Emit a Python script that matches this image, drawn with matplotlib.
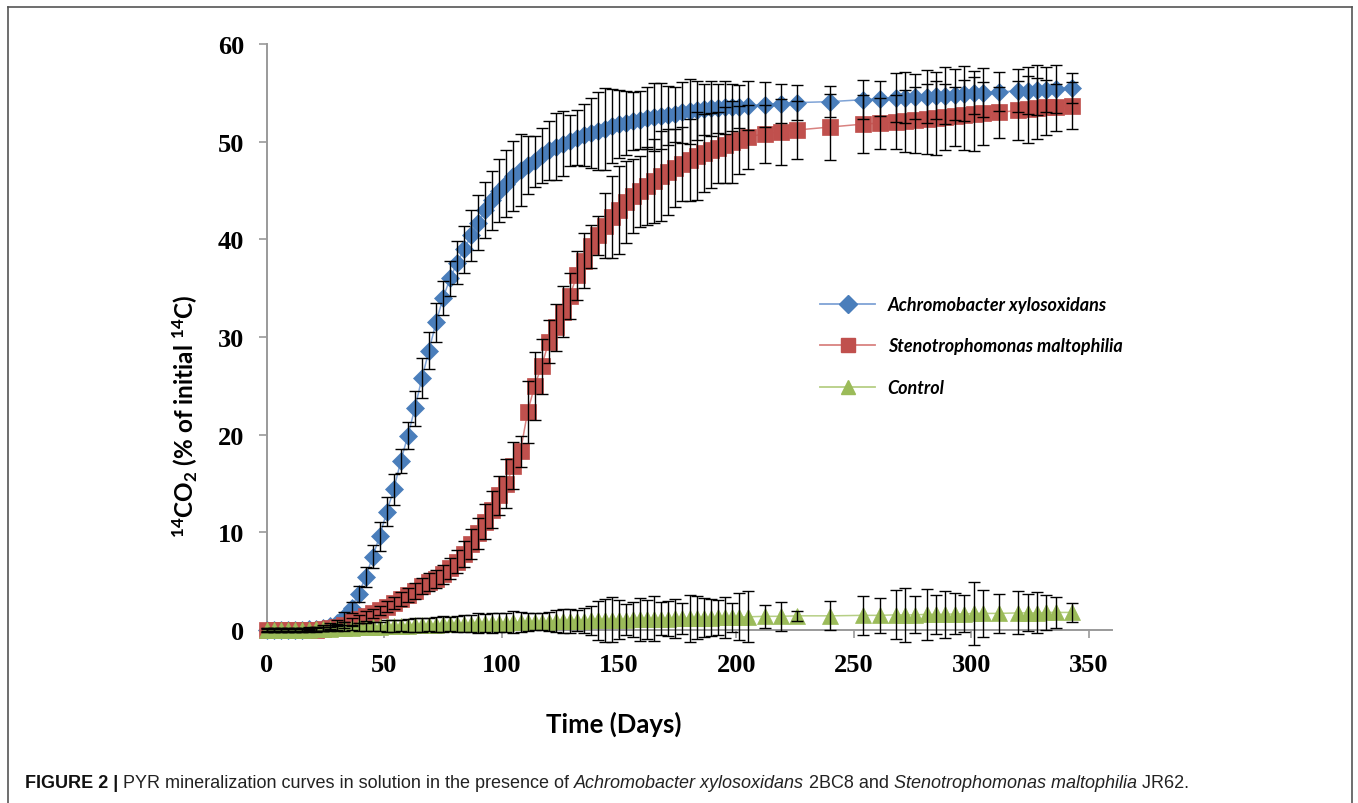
import matplotlib
matplotlib.use("Agg")
import matplotlib.pyplot as plt
from matplotlib.lines import Line2D

# ---------------- data ----------------
days = [0, 3, 6, 9, 12, 15, 18, 21, 24, 27, 30,
        33, 36, 39, 42, 45, 48, 51, 54, 57, 60, 63, 66, 69,
        72, 75, 78, 81, 84, 87, 90, 93, 96, 99,
        102, 105, 108, 111, 114, 117, 120, 123, 126, 129,
        132, 135, 138, 141, 144, 147, 150, 153, 156, 159,
        162, 165, 168, 171, 174, 177, 180, 183, 186, 189,
        192, 195, 198, 201,
        205, 212, 219, 226,
        240, 254, 261, 268, 272, 276, 281, 285, 289, 293,
        297, 301, 305, 312, 320, 324, 328, 332, 336, 343]

achromo = [0.0, 0.0, 0.0, 0.0, 0.0, 0.0, 0.1, 0.1, 0.2, 0.4, 0.7,
           1.3, 2.3, 3.7, 5.4, 7.5, 9.6, 12.1, 14.4, 17.3, 19.9, 22.7, 25.8, 28.6,
           31.5, 34.0, 36.0, 37.6, 39.0, 40.4, 41.7, 43.0, 44.0, 45.0,
           45.7, 46.5, 47.1, 47.6, 48.0, 48.6, 49.1, 49.5, 49.8, 50.1,
           50.4, 50.7, 50.9, 51.1, 51.3, 51.6, 51.8, 51.9, 52.1, 52.2,
           52.4, 52.5, 52.6, 52.7, 52.8, 53.0, 53.1, 53.2, 53.3, 53.4,
           53.4, 53.5, 53.5, 53.6,
           53.7, 53.8, 53.9, 54.0,
           54.1, 54.3, 54.4, 54.5, 54.5, 54.6, 54.6, 54.7, 54.7, 54.8,
           54.9, 55.0, 55.0, 55.1, 55.2, 55.2, 55.3, 55.3, 55.4, 55.5]
achromo_err = [0.2, 0.2, 0.2, 0.2, 0.2, 0.2, 0.2, 0.2, 0.3, 0.3, 0.3,
               0.5, 0.6, 0.8, 1.0, 1.2, 1.5, 1.5, 1.6, 1.2, 1.4, 1.8, 2.0, 1.9,
               2.0, 1.7, 1.8, 2.2, 2.4, 2.6, 2.8, 2.9, 3.0, 3.2,
               3.4, 3.6, 3.7, 3.0, 2.6, 2.8, 3.0, 3.4, 3.3, 2.6,
               2.8, 3.2, 3.6, 4.0, 4.2, 3.8, 3.5, 3.3, 3.0, 3.0,
               3.2, 3.5, 3.4, 3.0, 2.8, 3.1, 3.3, 3.0, 2.6, 2.8,
               2.5, 2.7, 2.4, 2.2,
               2.5, 2.3, 2.0, 1.8,
               1.6, 2.0, 1.8, 2.5, 2.6, 2.3, 2.7, 2.4, 2.9, 2.6,
               2.8, 2.2, 2.5, 2.0, 2.2, 2.4, 2.6, 2.3, 2.5, 1.5]

stenotro = [0.0, 0.0, 0.0, 0.0, 0.0, 0.0, 0.0, 0.0, 0.1, 0.2, 0.3,
            0.5, 0.8, 1.1, 1.4, 1.7, 2.0, 2.4, 2.8, 3.2, 3.6, 4.0, 4.5, 4.9,
            5.2, 5.7, 6.3, 7.0, 7.8, 8.8, 9.9, 11.1, 12.3, 13.8,
            15.0, 16.8, 18.3, 22.3, 25.0, 27.0, 29.5, 31.0, 32.6, 34.2,
            36.3, 37.8, 39.3, 40.4, 41.4, 42.3, 43.0, 43.8, 44.4, 44.9,
            45.5, 46.0, 46.5, 46.9, 47.3, 47.7, 48.1, 48.5, 48.8, 49.1,
            49.4, 49.7, 50.0, 50.2,
            50.5, 50.8, 51.0, 51.2,
            51.5, 51.8, 51.9, 52.0, 52.1, 52.2, 52.3, 52.4, 52.5, 52.6,
            52.7, 52.8, 52.9, 53.0, 53.2, 53.3, 53.4, 53.5, 53.5, 53.7]
stenotro_err = [0.2, 0.2, 0.2, 0.2, 0.2, 0.2, 0.2, 0.2, 0.2, 0.3, 0.3,
                0.3, 0.4, 0.4, 0.5, 0.5, 0.5, 0.6, 0.6, 0.7, 0.7, 0.8, 0.8, 0.9,
                0.9, 1.0, 1.1, 1.2, 1.3, 1.5, 1.6, 1.8, 1.9, 2.0,
                2.5, 2.4, 1.6, 3.2, 3.5, 2.8, 2.2, 2.4, 2.6, 2.4,
                2.5, 2.8, 2.2, 2.0, 3.3, 4.2, 4.5, 4.2, 3.8, 3.6,
                4.0, 4.3, 4.6, 4.4, 4.0, 3.8, 4.2, 4.5, 4.0, 3.8,
                3.6, 3.9, 4.2, 3.5,
                3.3, 3.0, 3.4, 3.0,
                3.4, 3.0, 2.6, 2.8, 3.2, 3.4, 3.6, 3.8, 3.4, 3.0,
                3.6, 3.8, 3.2, 2.6, 3.0, 3.4, 3.1, 2.8, 2.4, 2.4]

control = [0.0, 0.0, 0.0, 0.0, 0.0, 0.0, 0.05, 0.1, 0.1, 0.15, 0.2,
           0.2, 0.25, 0.3, 0.3, 0.35, 0.35, 0.4, 0.4, 0.45, 0.45, 0.5, 0.5, 0.55,
           0.55, 0.6, 0.6, 0.6, 0.65, 0.65, 0.7, 0.7, 0.7, 0.75,
           0.75, 0.8, 0.8, 0.8, 0.85, 0.85, 0.85, 0.9, 0.9, 0.9,
           0.95, 0.95, 1.0, 1.0, 1.0, 1.05, 1.05, 1.05, 1.1, 1.1,
           1.1, 1.15, 1.15, 1.15, 1.2, 1.2, 1.2, 1.25, 1.25, 1.25,
           1.3, 1.3, 1.3, 1.35,
           1.35, 1.4, 1.4, 1.45,
           1.45, 1.5, 1.5, 1.55, 1.55, 1.55, 1.6, 1.6, 1.6, 1.65,
           1.65, 1.7, 1.7, 1.7, 1.75, 1.75, 1.75, 1.8, 1.8, 1.8]
control_err = [0.1, 0.1, 0.1, 0.1, 0.1, 0.1, 0.1, 0.2, 0.2, 0.2, 0.3,
               0.3, 0.3, 0.4, 0.4, 0.5, 0.5, 0.6, 0.6, 0.6, 0.7, 0.7, 0.7, 0.7,
               0.8, 0.8, 0.7, 0.8, 0.9, 0.9, 1.0, 0.9, 1.0, 1.0,
               1.0, 1.1, 1.0, 0.9, 0.9, 0.9, 1.0, 1.1, 1.2, 1.2,
               1.1, 1.3, 1.5, 2.0, 2.2, 2.3, 2.0, 1.6, 1.8, 2.2,
               2.0, 2.3, 1.7, 1.8, 2.0, 1.6, 2.4, 2.2, 2.0, 1.9,
               1.8, 2.1, 1.5, 2.4,
               2.6, 1.2, 1.5, 0.5,
               1.5, 2.0, 1.8, 2.5, 2.8, 1.9, 2.6, 2.0, 2.4, 2.1,
               1.9, 3.2, 2.4, 2.0, 2.2, 1.9, 2.1, 1.8, 1.6, 1.0]

series_names = ["Achromobacter xylosoxidans", "Stenotrophomonas maltophilia", "Control"]
x_ticks = [0, 50, 100, 150, 200, 250, 300, 350]
y_ticks = [0, 10, 20, 30, 40, 50, 60]

# ---------------- figure ----------------
W, H = 1358, 804
fig = plt.figure(figsize=(W / 100, H / 100), dpi=100)
fig.patch.set_facecolor("white")

def fx(px):
    return px / W

def fy(py):
    return 1 - py / H

ax = fig.add_axes([fx(267), fy(631), fx(1112) - fx(267), fy(45) - fy(631)])
ax.set_xlim(0, 360)
ax.set_ylim(0, 60)

blue = "#4A7EBB"
red = "#C0504D"
green = "#9BBB59"

styles = [
    (achromo, achromo_err, blue, "D", 9.5, "#7FA3D6"),
    (stenotro, stenotro_err, red, "s", 11, "#D98280"),
    (control, control_err, green, "^", 11, "#B6CF85"),
]
handles = []
for (vals, errs, col, mk, ms, lc), name in zip(styles, series_names):
    ax.plot(days, vals, color=lc, lw=1.1, marker=mk, ms=ms,
            markerfacecolor=col, markeredgecolor=col, markeredgewidth=0.5,
            zorder=3, clip_on=False)
    ax.errorbar(days, vals, yerr=errs, fmt="none", ecolor="black",
                elinewidth=1.0, capsize=4.5, capthick=1.0, zorder=4,
                clip_on=False)
    handles.append(Line2D([], [], color=lc, lw=1.3, marker=mk, ms=ms * 0.95,
                          markerfacecolor=col, markeredgecolor=col))

for side in ("top", "right"):
    ax.spines[side].set_visible(False)
for side in ("left", "bottom"):
    ax.spines[side].set_color("#9A9A9A")
    ax.spines[side].set_linewidth(1.4)

ax.set_xticks(x_ticks)
ax.set_yticks(y_ticks)
ax.tick_params(axis="both", direction="out", color="#9A9A9A", width=1.2,
               length=5.5, pad=11)
for lab in ax.get_xticklabels() + ax.get_yticklabels():
    lab.set_fontfamily("Liberation Serif")
    lab.set_fontweight("bold")
    lab.set_fontsize(19)

# axis titles
plt.rcParams["mathtext.fontset"] = "custom"
plt.rcParams["mathtext.rm"] = "Lato:bold"
plt.rcParams["mathtext.it"] = "Lato:bold:italic"
plt.rcParams["mathtext.bf"] = "Lato:bold"

fig.text(fx(614), fy(724), "Time (Days)", family="Lato", weight="bold",
         fontsize=18.5, ha="center", va="center")
fig.text(fx(185), fy(416), r"$^{14}$CO$_{2}$ (% of initial $^{14}$C)",
         family="Lato", weight="bold", fontsize=17.5, rotation=90,
         ha="center", va="center")

# legend
leg = fig.legend(handles, series_names, loc="center left",
                 bbox_to_anchor=(fx(820), fy(347)), frameon=False,
                 prop={"family": "Lato", "weight": "bold", "style": "italic",
                       "size": 13},
                 handlelength=3.05, handletextpad=0.7, labelspacing=1.35,
                 borderpad=0, borderaxespad=0)

# border box (open at the bottom, as in the cropped reference)
for xs, ys in [((8, 8), (804, 8)), ((8, 1352), (8, 8)), ((1352, 1352), (8, 804))]:
    fig.add_artist(Line2D([fx(xs[0]), fx(xs[1])], [fy(ys[0]), fy(ys[1])],
                          transform=fig.transFigure, color="#555555", lw=1.2))

# caption with mixed styles
pieces = [("FIGURE 2 |", "bold", "normal", "#111111"),
          (" PYR mineralization curves in solution in the presence of ", "normal", "normal", "#222222"),
          ("Achromobacter xylosoxidans", "normal", "italic", "#222222"),
          (" 2BC8 and ", "normal", "normal", "#222222"),
          ("Stenotrophomonas maltophilia", "normal", "italic", "#222222"),
          (" JR62.", "normal", "normal", "#222222")]
renderer = fig.canvas.get_renderer()

def layout_caption(size, draw):
    x = 25
    arts = []
    for txt, wt, st, col in pieces:
        t = fig.text(fx(x), fy(788), txt, family="Liberation Sans", weight=wt,
                     style=st, fontsize=size, color=col, ha="left",
                     va="baseline")
        w = t.get_window_extent(renderer).width
        x += w
        arts.append(t)
    if not draw:
        for t in arts:
            t.remove()
    return x

end = layout_caption(10, False)
target_size = 10 * (1195 - 25) / (end - 25)
layout_caption(target_size, True)

fig.savefig("out.png", dpi=100, facecolor="white")
